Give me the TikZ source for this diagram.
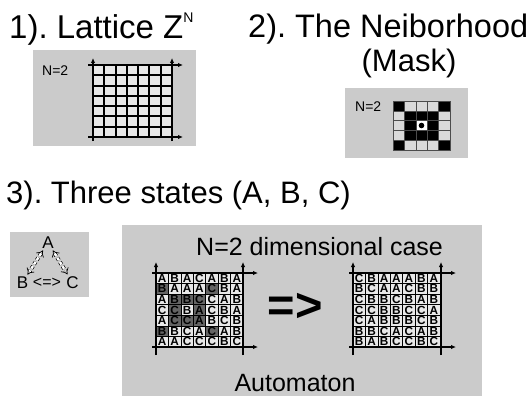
\documentclass[tikz,border=0pt]{standalone}
\usepackage{fontspec}
\setmainfont{Liberation Sans}
\usetikzlibrary{arrows.meta}
\frenchspacing
\definecolor{panelgray}{RGB}{203,203,203}
\definecolor{cl}{RGB}{232,232,232}
\definecolor{cd}{RGB}{100,100,100}
\definecolor{maskgray}{RGB}{218,218,218}
\newcommand\fsz[1]{\fontsize{#1}{#1}\selectfont}
% state grid: x0, y0, name prefix, rows of letter/fill
\newcommand\stategrid[4]{%
  \foreach \row [count=\r] in {#4} {
    \foreach \ch/\shade [count=\c] in \row {
      \node[cellbox, fill=\shade] (#3-\r-\c) at ({#1+(\c-0.5)*12.43},{#2+(\r-0.5)*10.57}) {\ch};
    }
  }
}
% axes framing a grid: x0, y0, x1, y1
\newcommand\gridaxes[4]{%
  \draw[axis] (#1,#4+8) -- (#1,#2-11);
  \draw[axis] (#3,#4+8) -- (#3,#2-11);
  \draw[axis] (#1-4,#2) -- (#3+15,#2);
  \draw[axis] (#1-4,#4) -- (#3+15,#4);
}
\begin{document}
\begin{tikzpicture}[x=1pt,y=-1pt,
  panel/.style={fill=panelgray},
  axis/.style={line width=1.2pt,-{Latex[length=5pt,width=4.5pt]}},
  latline/.style={line width=2pt},
  heading/.style={anchor=base west,inner sep=0pt},
  label/.style={anchor=base west,inner sep=0pt,font=\fsz{14}},
  cellbox/.style={draw=black,line width=0.6pt,minimum width=12.43pt,minimum height=10.57pt,
    inner sep=0pt,font=\fsz{11.8}\bfseries},
  maskcell/.style={draw=gray!60!black,line width=0.5pt,minimum width=11.4pt,minimum height=9.8pt,inner sep=0pt},
  statelbl/.style={inner sep=1pt,font=\fsz{17}},
  swap/.style={densely dashed,double,double distance=2.4pt,line width=0.7pt,
    {Implies[length=3.5pt]}-{Implies[length=3.5pt]},shorten <=1pt,shorten >=1pt}]
\useasboundingbox (0,0) rectangle (528,396);

% ---------- 1) lattice ----------
\node[heading,font=\fsz{33}] (t1) at (9,39) {1). Lattice Z\raisebox{17pt}{\fsz{14}N}};
\fill[panel] (33,50) rectangle (196,146);
\node[label] (n1) at (42,76) {N=2};
\fill[cl] (93,65) rectangle (172,137);
\foreach \i in {1,...,6} {
  \draw[latline] ({93+\i*79/7},65) -- ({93+\i*79/7},137);
  \draw[latline] (93,{65+\i*72/7}) -- (172,{65+\i*72/7});
}
\draw[axis,line width=2pt] (93,141) -- (93,58);
\draw[axis,line width=2pt] (172,141) -- (172,58);
\draw[axis,line width=2pt] (88,65) -- (183,65);
\draw[axis,line width=2pt] (88,137) -- (183,137);

% ---------- 2) neighbourhood mask ----------
\node[heading,font=\fsz{32.5}] (t2) at (248,38) {2). The Neiborhood};
\node[anchor=base,inner sep=0pt,font=\fsz{31}] (t2b) at (409,72) {(Mask)};
\fill[panel] (345,88) rectangle (468,158);
\node[label] (n2) at (355,112) {N=2};
\foreach \row [count=\r] in {{black,maskgray,maskgray,maskgray,black},
                             {maskgray,black,black,black,maskgray},
                             {maskgray,black,white,black,maskgray},
                             {maskgray,black,black,black,maskgray},
                             {black,maskgray,maskgray,maskgray,black}} {
  \foreach \shade [count=\c] in \row {
    \node[maskcell,fill=\shade] (m-\r-\c) at ({393+(\c-0.5)*11.4},{101+(\r-0.5)*9.8}) {};
  }
}
\fill[black] (m-3-3.center) circle (2.8pt);

% ---------- 3) three states ----------
\node[heading,font=\fsz{31}] (t3) at (6,203) {3). Three states (A, B, C)};
\fill[panel] (10,232) rectangle (89,297);
\node[statelbl] (sa) at (48,242.5) {A};
\node[statelbl] (sb) at (22.5,282.5) {B};
\node[statelbl] (sc) at (72.5,282.5) {C};
\node[inner sep=0pt,font=\fsz{16}] (sbc) at (47,283) {<=>};
\draw[swap] (sa) -- (sb);
\draw[swap] (sa) -- (sc);

% ---------- automaton ----------
\fill[panel] (122,225) rectangle (482,396);
\node[anchor=base west,inner sep=0pt,font=\fsz{25}] (case) at (196,255) {N=2 dimensional case};
\node[anchor=base,inner sep=0pt,font=\fsz{25}] (auto) at (295,391) {Automaton};
\node[anchor=base,inner sep=0pt,font=\fsz{47}\bfseries] (step) at (295,321) {=>};

\stategrid{156}{273}{L}{
  {A/cl,B/cl,A/cl,C/cl,A/cl,B/cl,A/cl},
  {B/cd,A/cl,A/cl,A/cl,C/cd,B/cl,A/cl},
  {A/cl,B/cd,B/cd,C/cd,C/cl,A/cl,B/cl},
  {C/cl,C/cd,B/cl,A/cd,C/cl,B/cl,A/cl},
  {A/cl,C/cd,C/cd,A/cd,B/cl,C/cl,B/cl},
  {B/cd,B/cl,C/cl,A/cl,C/cd,A/cl,B/cl},
  {A/cl,A/cl,C/cl,C/cl,C/cl,B/cl,C/cl}}
\gridaxes{156}{273}{243}{347}

\stategrid{353}{273}{R}{
  {C/cl,B/cl,A/cl,A/cl,A/cl,B/cl,A/cl},
  {B/cl,C/cl,A/cl,A/cl,C/cl,B/cl,B/cl},
  {C/cl,B/cl,B/cl,C/cl,B/cl,A/cl,B/cl},
  {C/cl,C/cl,B/cl,B/cl,C/cl,C/cl,A/cl},
  {C/cl,A/cl,B/cl,B/cl,B/cl,C/cl,B/cl},
  {B/cl,B/cl,C/cl,A/cl,C/cl,A/cl,B/cl},
  {B/cl,A/cl,B/cl,C/cl,C/cl,B/cl,C/cl}}
\gridaxes{353}{273}{441}{347}
\end{tikzpicture}
\end{document}
